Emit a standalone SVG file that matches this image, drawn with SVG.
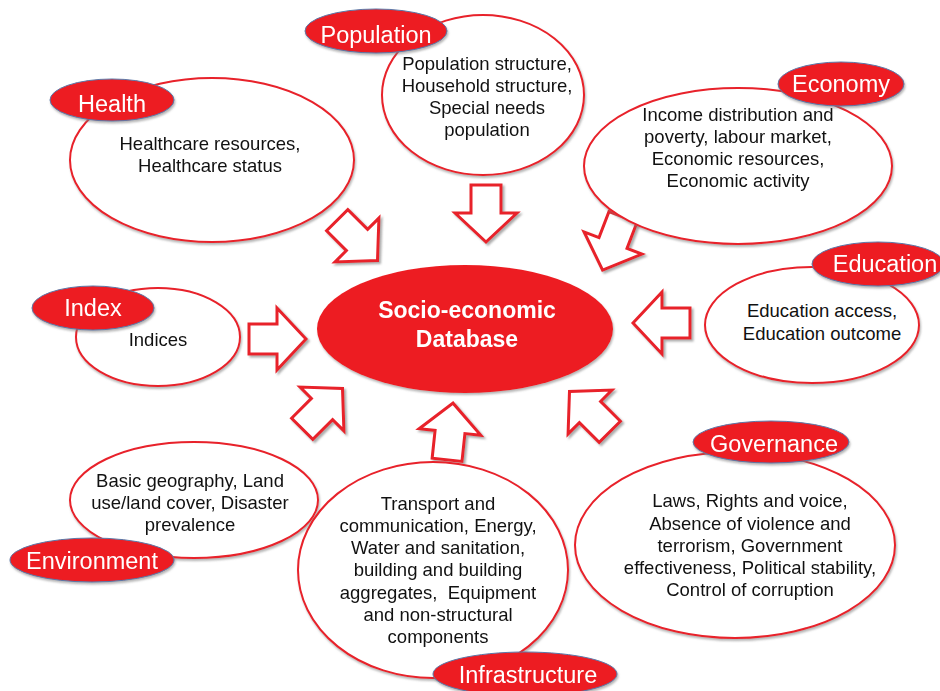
<svg xmlns="http://www.w3.org/2000/svg" width="940" height="691" viewBox="0 0 940 691">
<defs>
  <filter id="sh" x="-10%" y="-10%" width="120%" height="130%">
    <feDropShadow dx="1" dy="2" stdDeviation="1" flood-color="#777" flood-opacity="0.55"/>
  </filter>
  <filter id="sha" x="-20%" y="-20%" width="140%" height="140%">
    <feDropShadow dx="2" dy="2" stdDeviation="0.8" flood-color="#888" flood-opacity="0.7"/>
  </filter>
  <polygon id="arw" points="-28,-15 0,-15 0,-31 29,0 0,31 0,15 -28,15"/>
</defs>
<style>
  .node{fill:#fff;stroke:#e8202a;stroke-width:2}
  .lab{fill:#ed1c24;stroke:#5a78a8;stroke-width:1}
  .core{fill:#ed1c24;stroke:none}
  .body{font-family:"Liberation Sans",Arial,sans-serif;font-size:18.5px;fill:#111;text-anchor:middle}
  .lt{font-family:"Liberation Sans",Arial,sans-serif;font-size:23.5px;fill:#fff;text-anchor:middle}
  .ct{font-family:"Liberation Sans",Arial,sans-serif;font-size:23px;font-weight:bold;fill:#fff;text-anchor:middle}
  .arrow{fill:#fff;stroke:#e8202a;stroke-width:3;stroke-linejoin:miter}
</style>

<g id="connectors" filter="url(#sha)">
  <use href="#arw" class="arrow" transform="translate(357,240) rotate(45)"/>
  <use href="#arw" class="arrow" transform="translate(486,213) rotate(90)"/>
  <use href="#arw" class="arrow" transform="translate(613,243) rotate(111)"/>
  <use href="#arw" class="arrow" transform="translate(662,323) rotate(180)"/>
  <use href="#arw" class="arrow" transform="translate(277,339)"/>
  <use href="#arw" class="arrow" transform="translate(322,409) rotate(-45)"/>
  <use href="#arw" class="arrow" transform="translate(450,432) rotate(-84)"/>
  <use href="#arw" class="arrow" transform="translate(590,412) rotate(-135)"/>
</g>

<g id="core">
  <ellipse class="core" cx="465" cy="329" rx="148" ry="64" filter="url(#sh)"/>
  <text class="ct" x="467" y="318">Socio-economic</text>
  <text class="ct" x="467" y="347">Database</text>
</g>

<g id="health">
  <ellipse class="node" cx="212" cy="160" rx="142" ry="82" filter="url(#sh)"/>
  <text class="body" x="210" y="150">Healthcare resources,</text>
  <text class="body" x="210" y="172">Healthcare status</text>
  <ellipse class="lab" cx="112" cy="100" rx="62" ry="21" filter="url(#sh)"/>
  <text class="lt" x="112" y="112">Health</text>
</g>

<g id="population">
  <ellipse class="node" cx="483" cy="95" rx="101" ry="80" filter="url(#sh)"/>
  <text class="body" x="487" y="70">Population structure,</text>
  <text class="body" x="487" y="92">Household structure,</text>
  <text class="body" x="487" y="114">Special needs</text>
  <text class="body" x="487" y="136">population</text>
  <ellipse class="lab" cx="376" cy="31" rx="71" ry="22" filter="url(#sh)"/>
  <text class="lt" x="376" y="43">Population</text>
</g>

<g id="economy">
  <ellipse class="node" cx="738" cy="166" rx="154" ry="78" filter="url(#sh)"/>
  <text class="body" x="738" y="121">Income distribution and</text>
  <text class="body" x="738" y="143">poverty, labour market,</text>
  <text class="body" x="738" y="165">Economic resources,</text>
  <text class="body" x="738" y="187">Economic activity</text>
  <ellipse class="lab" cx="841" cy="84" rx="63" ry="22" filter="url(#sh)"/>
  <text class="lt" x="841" y="92">Economy</text>
</g>

<g id="education">
  <ellipse class="node" cx="812" cy="325" rx="107" ry="58" filter="url(#sh)"/>
  <text class="body" x="822" y="317">Education access,</text>
  <text class="body" x="822" y="340">Education outcome</text>
  <ellipse class="lab" cx="878" cy="264" rx="66" ry="22" filter="url(#sh)"/>
  <text class="lt" x="885" y="272">Education</text>
</g>

<g id="index">
  <ellipse class="node" cx="158" cy="337" rx="82" ry="49" filter="url(#sh)"/>
  <text class="body" x="158" y="346">Indices</text>
  <ellipse class="lab" cx="93" cy="308" rx="61" ry="22" filter="url(#sh)"/>
  <text class="lt" x="93" y="316">Index</text>
</g>

<g id="environment">
  <ellipse class="node" cx="194" cy="500" rx="124" ry="58" filter="url(#sh)"/>
  <text class="body" x="190" y="487">Basic geography, Land</text>
  <text class="body" x="190" y="509">use/land cover, Disaster</text>
  <text class="body" x="190" y="531">prevalence</text>
  <ellipse class="lab" cx="92" cy="560" rx="82" ry="22" filter="url(#sh)"/>
  <text class="lt" x="92" y="569">Environment</text>
</g>

<g id="infrastructure">
  <ellipse class="node" cx="433" cy="570" rx="135" ry="108" filter="url(#sh)"/>
  <text class="body" x="438" y="510">Transport and</text>
  <text class="body" x="438" y="532">communication, Energy,</text>
  <text class="body" x="438" y="554">Water and sanitation,</text>
  <text class="body" x="438" y="576">building and building</text>
  <text class="body" x="438" y="599" xml:space="preserve">aggregates,  Equipment</text>
  <text class="body" x="438" y="621">and non-structural</text>
  <text class="body" x="438" y="643">components</text>
  <ellipse class="lab" cx="525" cy="674" rx="92" ry="22" filter="url(#sh)"/>
  <text class="lt" x="528" y="683">Infrastructure</text>
</g>

<g id="governance">
  <ellipse class="node" cx="735" cy="545" rx="160" ry="93" filter="url(#sh)"/>
  <text class="body" x="750" y="507">Laws, Rights and voice,</text>
  <text class="body" x="750" y="530">Absence of violence and</text>
  <text class="body" x="750" y="552">terrorism, Government</text>
  <text class="body" x="750" y="574">effectiveness, Political stability,</text>
  <text class="body" x="750" y="596">Control of corruption</text>
  <ellipse class="lab" cx="771" cy="442" rx="78" ry="21" filter="url(#sh)"/>
  <text class="lt" x="774" y="452">Governance</text>
</g>
</svg>
